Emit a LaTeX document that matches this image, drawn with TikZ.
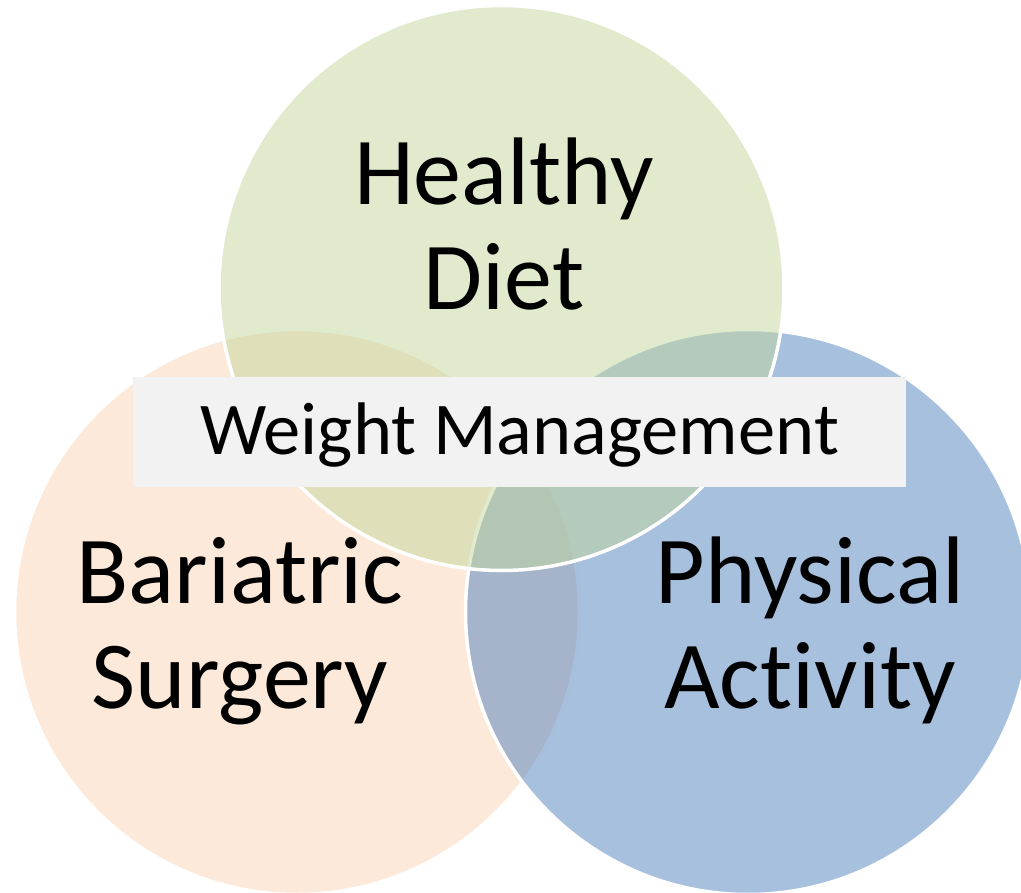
\documentclass[tikz,border=0pt]{standalone}
\usepackage{fontspec}
\setmainfont[Ligatures=NoCommon]{Carlito}
\definecolor{dietgreen}{HTML}{C3D69B}
\definecolor{surgerypeach}{HTML}{FBD4B4}
\definecolor{activityblue}{HTML}{4F81BD}
\definecolor{centerbox}{HTML}{F2F2F2}
\tikzset{
  setcircle/.style={circle, minimum size=565pt, inner sep=0pt, draw=white,
    line width=3.5pt, fill opacity=0.5},
  biglabel/.style={align=center, inner sep=0pt, font=\fontsize{96}{105}\selectfont},
}
\begin{document}
\begin{tikzpicture}[x=1pt, y=-1pt]
  \useasboundingbox (0,0) rectangle (1021,893);
  \clip (0,0) rectangle (1021,893);
  % the three overlapping circles
  \node[setcircle, fill=surgerypeach] (surgery) at (297,612) {};
  \node[setcircle, fill=activityblue] (activity) at (748,612) {};
  \node[setcircle, fill=dietgreen] (diet) at (501.5,288) {};
  % circle labels
  \node[biglabel, anchor=base] (dietlabel) at (504,310) {Healthy\\Diet};
  \node[biglabel, anchor=base] (surgerylabel) at (240,708) {Bariatric\\Surgery};
  \node[biglabel, anchor=base] (activitylabel) at (810,708) {Physical\\Activity};
  % centre banner
  \node[fill=centerbox, minimum width=773pt, minimum height=110pt, inner sep=0pt]
    (goal) at (519.5,432) {};
  \node[inner sep=0pt, anchor=base, font=\fontsize{74.5}{80}\selectfont]
    (goallabel) at (goal.center |- 0,455) {Weight Management};
\end{tikzpicture}
\end{document}
